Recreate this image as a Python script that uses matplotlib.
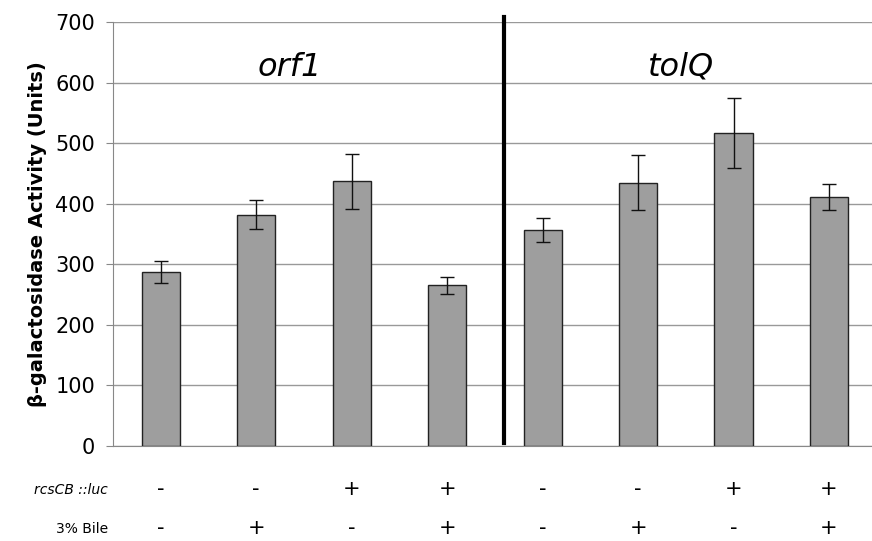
import matplotlib
matplotlib.use("Agg")
import matplotlib.pyplot as plt
import numpy as np

groups = ["orf1", "tolQ"]
values = [287, 382, 437, 265, 357, 435, 517, 411]
errors = [18, 24, 45, 14, 20, 45, 58, 22]
rcs_signs = ["-", "-", "+", "+", "-", "-", "+", "+"]
bile_signs = ["-", "+", "-", "+", "-", "+", "-", "+"]
yticks = [0, 100, 200, 300, 400, 500, 600, 700]

fig = plt.figure(figsize=(8.72, 5.41), dpi=100)
ax = fig.add_axes([0.1296, 0.1756, 0.8704, 0.7837])
x = np.arange(len(values))
ax.bar(x, values, width=0.4, color="#9e9e9e", edgecolor="#222222", linewidth=1.0, zorder=3)
ax.errorbar(x, values, yerr=errors, fmt="none", ecolor="#111111", elinewidth=1.0,
            capsize=5, capthick=1.0, zorder=4)
ax.set_xlim(-0.5, 7.45)
ax.set_ylim(0, 700)
ax.set_yticks(yticks)
ax.set_yticklabels([str(t) for t in yticks], fontsize=15)
ax.set_xticks([])
ax.grid(axis="y", color="#999999", linewidth=1.0, zorder=0)
for s in ["top", "right"]:
    ax.spines[s].set_visible(False)
ax.spines["left"].set_color("#888888")
ax.spines["bottom"].set_color("#888888")
ax.tick_params(axis="y", length=5, color="#888888", pad=8)
ax.set_ylabel("β-galactosidase Activity (Units)", fontsize=14, fontweight="bold", labelpad=6)

# separator
ax.plot([3.6, 3.6], [5, 708], color="black", linewidth=3, clip_on=False, zorder=5)

ax.text(1.35, 625, groups[0], style="italic", fontsize=23, ha="center", va="center")
ax.text(5.45, 625, groups[1], style="italic", fontsize=23, ha="center", va="center")

fig_h = 541
def yfig(py):
    return 1 - py / fig_h
for i in range(len(values)):
    xd = ax.transData.transform((i, 0))[0]
    xf = xd / fig.bbox.width
    fig.text(xf, yfig(489), rcs_signs[i], fontsize=15, ha="center", va="center")
    fig.text(xf, yfig(528), bile_signs[i], fontsize=15, ha="center", va="center")
fig.text(108 / 872, yfig(490), "rcsCB ::luc", style="italic", fontsize=10, ha="right", va="center")
fig.text(108 / 872, yfig(529), "3% Bile", fontsize=10, ha="right", va="center")

fig.savefig("out.png", dpi=100)
